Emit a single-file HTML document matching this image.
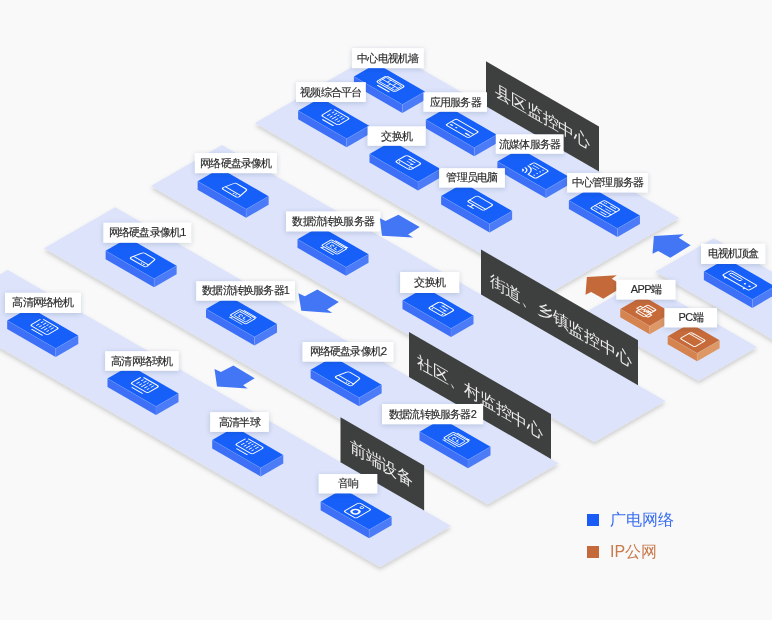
<!DOCTYPE html>
<html><head><meta charset="utf-8"><style>
html,body{margin:0;padding:0;background:#f9f9f9;}
svg{display:block;font-family:'Liberation Sans', sans-serif;will-change:transform;}
</style></head><body>
<svg width="772" height="620" viewBox="0 0 772 620">
<defs>
<filter id="ps" x="-10%" y="-10%" width="120%" height="130%"><feDropShadow dx="0" dy="2.5" stdDeviation="2.2" flood-color="#000" flood-opacity="0.19"/></filter>
<filter id="ls" x="-20%" y="-30%" width="140%" height="170%"><feDropShadow dx="0" dy="1.2" stdDeviation="2.4" flood-color="#2a3560" flood-opacity="0.2"/></filter>
</defs>
<rect x="0" y="0" width="772" height="620" fill="#f9f9f9"/>
<polygon points="255.00,123.00 384.90,48.00 679.35,218.00 549.45,293.00" fill="#dce3fa" filter="url(#ps)"/>
<polygon points="486.00,61.37 599.00,126.61 599.00,171.61 486.00,106.37" fill="#3e403f"/>
<g transform="translate(542.50,116.29) skewY(30)"><text x="0" y="0" text-anchor="middle" dominant-baseline="central" font-size="16" fill="#ececec">县区监控中心</text></g>
<polygon points="353.90,76.60 402.40,104.60 402.40,113.10 353.90,85.10" fill="#3d70f6"/>
<polygon points="402.40,104.60 424.92,91.60 424.92,100.10 402.40,113.10" fill="#4b7bf7"/>
<polygon points="376.42,63.60 424.92,91.60 402.40,104.60 353.90,76.60" fill="#1660f9"/>
<polyline points="353.90,76.60 402.40,104.60 424.92,91.60" fill="none" stroke="#fff" stroke-opacity="0.15" stroke-width="0.8"/>
<line x1="402.40" y1="104.60" x2="402.40" y2="113.10" stroke="#fff" stroke-opacity="0.12" stroke-width="0.8"/>
<g transform="matrix(0.8660,0.5,-0.8660,0.5,376.42,63.60) translate(28.00,13.00)" fill="none" stroke="#fff" stroke-width="1.1" stroke-linecap="round" stroke-linejoin="round"><rect x="-10" y="-6.6" width="21" height="11.6" rx="1.6"/><path d="M-8.2,-4.8h17.4v8h-17.4z M-8.2,-0.8h17.4 M-3,-4.8v4 M3.5,-4.8v4 M0.5,-0.8v4 M5.5,-0.8v4" stroke-width="0.75"/><path d="M-5.5,8h13"/></g>
<polygon points="298.10,110.80 346.60,138.80 346.60,147.30 298.10,119.30" fill="#3d70f6"/>
<polygon points="346.60,138.80 369.12,125.80 369.12,134.30 346.60,147.30" fill="#4b7bf7"/>
<polygon points="320.62,97.80 369.12,125.80 346.60,138.80 298.10,110.80" fill="#1660f9"/>
<polyline points="298.10,110.80 346.60,138.80 369.12,125.80" fill="none" stroke="#fff" stroke-opacity="0.15" stroke-width="0.8"/>
<line x1="346.60" y1="138.80" x2="346.60" y2="147.30" stroke="#fff" stroke-opacity="0.12" stroke-width="0.8"/>
<g transform="matrix(0.8660,0.5,-0.8660,0.5,320.62,97.80) translate(28.00,13.00)" fill="none" stroke="#fff" stroke-width="1.1" stroke-linecap="round" stroke-linejoin="round"><path d="M-8,-9h15.5a2,2 0 0 1 2,2v9.3a2,2 0 0 1 -2,2h-15.5a2,2 0 0 1 -2,-2v-9.3"/><path d="M-6.2,-6.5v2M-6.2,-2v3M-3.2,-7v3M-3.2,-1.5v2.5M-0.2,-6.5v1.5M-0.2,-3v4.5M2.8,-7v2.5M2.8,-2v3M5.8,-6.5v3M5.8,-1v2" stroke-width="0.9"/><path d="M-5,7.6h12"/></g>
<polygon points="425.80,119.80 474.30,147.80 474.30,156.30 425.80,128.30" fill="#3d70f6"/>
<polygon points="474.30,147.80 496.82,134.80 496.82,143.30 474.30,156.30" fill="#4b7bf7"/>
<polygon points="448.32,106.80 496.82,134.80 474.30,147.80 425.80,119.80" fill="#1660f9"/>
<polyline points="425.80,119.80 474.30,147.80 496.82,134.80" fill="none" stroke="#fff" stroke-opacity="0.15" stroke-width="0.8"/>
<line x1="474.30" y1="147.80" x2="474.30" y2="156.30" stroke="#fff" stroke-opacity="0.12" stroke-width="0.8"/>
<g transform="matrix(0.8660,0.5,-0.8660,0.5,448.32,106.80) translate(28.00,13.00)" fill="none" stroke="#fff" stroke-width="1.1" stroke-linecap="round" stroke-linejoin="round"><rect x="-11.5" y="-5.5" width="26" height="12" rx="1.8"/><path d="M-11.5,0h26"/><path d="M-8.8,3.2h1.6M-2.8,3.2h0.4M8.5,3.4h4" stroke-width="1.5"/></g>
<polygon points="369.50,154.00 418.00,182.00 418.00,190.50 369.50,162.50" fill="#3d70f6"/>
<polygon points="418.00,182.00 440.52,169.00 440.52,177.50 418.00,190.50" fill="#4b7bf7"/>
<polygon points="392.02,141.00 440.52,169.00 418.00,182.00 369.50,154.00" fill="#1660f9"/>
<polyline points="369.50,154.00 418.00,182.00 440.52,169.00" fill="none" stroke="#fff" stroke-opacity="0.15" stroke-width="0.8"/>
<line x1="418.00" y1="182.00" x2="418.00" y2="190.50" stroke="#fff" stroke-opacity="0.12" stroke-width="0.8"/>
<g transform="matrix(0.8660,0.5,-0.8660,0.5,392.02,141.00) translate(28.00,13.00)" fill="none" stroke="#fff" stroke-width="1.1" stroke-linecap="round" stroke-linejoin="round"><rect x="-5.5" y="-7.5" width="17" height="13.3" rx="2.2"/><path d="M-5.5,1.8h17"/><path d="M0,-4.6h7M0,-4.6l1.8,-1.3M0.8,-1.6h7M7.8,-1.6l-1.8,1.3" stroke-width="0.9"/><path d="M-2.8,3.8h0.2M8.8,3.8h0.2" stroke-width="1.4"/></g>
<polygon points="497.40,161.60 545.90,189.60 545.90,198.10 497.40,170.10" fill="#3d70f6"/>
<polygon points="545.90,189.60 568.42,176.60 568.42,185.10 545.90,198.10" fill="#4b7bf7"/>
<polygon points="519.92,148.60 568.42,176.60 545.90,189.60 497.40,161.60" fill="#1660f9"/>
<polyline points="497.40,161.60 545.90,189.60 568.42,176.60" fill="none" stroke="#fff" stroke-opacity="0.15" stroke-width="0.8"/>
<line x1="545.90" y1="189.60" x2="545.90" y2="198.10" stroke="#fff" stroke-opacity="0.12" stroke-width="0.8"/>
<g transform="matrix(0.8660,0.5,-0.8660,0.5,519.92,148.60) translate(28.00,13.00)" fill="none" stroke="#fff" stroke-width="1.1" stroke-linecap="round" stroke-linejoin="round"><path d="M-6,-2.5v-2.8a2,2 0 0 1 2,-2h13a2,2 0 0 1 2,2v11.3a2,2 0 0 1 -2,2h-6"/><path d="M-6,-0.5a8.5,8.5 0 0 1 8.5,8.5M-6,3a5,5 0 0 1 5,5M-6,6a2,2 0 0 1 2,2"/><path d="M-3.5,-4h6.5M-1.5,-1h4.5" stroke-width="0.9"/><path d="M6.8,-4.7h0.2M6.8,-1.4h0.2M6.8,2h0.2M6.8,5.3h0.2" stroke-width="1.3"/></g>
<polygon points="441.10,196.00 489.60,224.00 489.60,232.50 441.10,204.50" fill="#3d70f6"/>
<polygon points="489.60,224.00 512.12,211.00 512.12,219.50 489.60,232.50" fill="#4b7bf7"/>
<polygon points="463.62,183.00 512.12,211.00 489.60,224.00 441.10,196.00" fill="#1660f9"/>
<polyline points="441.10,196.00 489.60,224.00 512.12,211.00" fill="none" stroke="#fff" stroke-opacity="0.15" stroke-width="0.8"/>
<line x1="489.60" y1="224.00" x2="489.60" y2="232.50" stroke="#fff" stroke-opacity="0.12" stroke-width="0.8"/>
<g transform="matrix(0.8660,0.5,-0.8660,0.5,463.62,183.00) translate(28.00,13.00)" fill="none" stroke="#fff" stroke-width="1.1" stroke-linecap="round" stroke-linejoin="round"><rect x="-7.6" y="-8.1" width="18.6" height="11.3" rx="1.8"/><path d="M-7.6,0.6h18.6M-0.5,3.2v3.6M-3.5,6.8h6.5"/></g>
<polygon points="568.90,200.60 617.40,228.60 617.40,237.10 568.90,209.10" fill="#3d70f6"/>
<polygon points="617.40,228.60 639.92,215.60 639.92,224.10 617.40,237.10" fill="#4b7bf7"/>
<polygon points="591.42,187.60 639.92,215.60 617.40,228.60 568.90,200.60" fill="#1660f9"/>
<polyline points="568.90,200.60 617.40,228.60 639.92,215.60" fill="none" stroke="#fff" stroke-opacity="0.15" stroke-width="0.8"/>
<line x1="617.40" y1="228.60" x2="617.40" y2="237.10" stroke="#fff" stroke-opacity="0.12" stroke-width="0.8"/>
<g transform="matrix(0.8660,0.5,-0.8660,0.5,591.42,187.60) translate(28.00,13.00)" fill="none" stroke="#fff" stroke-width="1.1" stroke-linecap="round" stroke-linejoin="round"><rect x="-8" y="-7.8" width="18.5" height="16" rx="2"/><path d="M-8,-2.9h18.5M-8,2.85h18.5"/><path d="M-5.5,-5.5h0.2M-3.5,-5.5h0.2M-5.5,0h0.2M-3.5,0h0.2M-5.5,5.5h0.2M-3.5,5.5h0.2" stroke-width="1.2"/><path d="M1.5,-5.6h6M1.5,0h6M1.5,5.6h6" stroke-width="0.9"/></g>
<rect x="352.0" y="48.2" width="71.7" height="19.9" fill="#fff" filter="url(#ls)"/>
<text x="387.85" y="57.65" text-anchor="middle" dominant-baseline="central" font-size="11" letter-spacing="-0.8" fill="#2a2a2a" stroke="#2a2a2a" stroke-width="0.15">中心电视机墙</text>
<rect x="296.0" y="82.1" width="69.8" height="19.9" fill="#fff" filter="url(#ls)"/>
<text x="330.90" y="91.55" text-anchor="middle" dominant-baseline="central" font-size="11" letter-spacing="-0.8" fill="#2a2a2a" stroke="#2a2a2a" stroke-width="0.15">视频综合平台</text>
<rect x="423.5" y="92.3" width="63.5" height="19.5" fill="#fff" filter="url(#ls)"/>
<text x="455.25" y="101.55" text-anchor="middle" dominant-baseline="central" font-size="11" letter-spacing="-0.8" fill="#2a2a2a" stroke="#2a2a2a" stroke-width="0.15">应用服务器</text>
<rect x="367.6" y="126.3" width="58.1" height="19.5" fill="#fff" filter="url(#ls)"/>
<text x="396.65" y="135.55" text-anchor="middle" dominant-baseline="central" font-size="11" letter-spacing="-0.8" fill="#2a2a2a" stroke="#2a2a2a" stroke-width="0.15">交换机</text>
<rect x="495.8" y="134.3" width="67.8" height="19.5" fill="#fff" filter="url(#ls)"/>
<text x="529.70" y="143.55" text-anchor="middle" dominant-baseline="central" font-size="11" letter-spacing="-0.8" fill="#2a2a2a" stroke="#2a2a2a" stroke-width="0.15">流媒体服务器</text>
<rect x="439.1" y="168.2" width="65.8" height="19.4" fill="#fff" filter="url(#ls)"/>
<text x="472.00" y="177.40" text-anchor="middle" dominant-baseline="central" font-size="11" letter-spacing="-0.8" fill="#2a2a2a" stroke="#2a2a2a" stroke-width="0.15">管理员电脑</text>
<rect x="567.1" y="173.0" width="80.7" height="19.5" fill="#fff" filter="url(#ls)"/>
<text x="607.45" y="182.25" text-anchor="middle" dominant-baseline="central" font-size="11" letter-spacing="-0.8" fill="#2a2a2a" stroke="#2a2a2a" stroke-width="0.15">中心管理服务器</text>
<polygon points="655.50,271.80 713.78,238.15 852.35,318.15 794.06,351.80" fill="#dce3fa" filter="url(#ps)"/>
<polygon points="703.90,271.40 752.40,299.40 752.40,307.90 703.90,279.90" fill="#3d70f6"/>
<polygon points="752.40,299.40 774.92,286.40 774.92,294.90 752.40,307.90" fill="#4b7bf7"/>
<polygon points="726.42,258.40 774.92,286.40 752.40,299.40 703.90,271.40" fill="#1660f9"/>
<polyline points="703.90,271.40 752.40,299.40 774.92,286.40" fill="none" stroke="#fff" stroke-opacity="0.15" stroke-width="0.8"/>
<line x1="752.40" y1="299.40" x2="752.40" y2="307.90" stroke="#fff" stroke-opacity="0.12" stroke-width="0.8"/>
<g transform="matrix(0.8660,0.5,-0.8660,0.5,726.42,258.40) translate(28.00,13.00)" fill="none" stroke="#fff" stroke-width="1.1" stroke-linecap="round" stroke-linejoin="round"><rect x="-13.5" y="-3.6" width="30.5" height="9.8" rx="1.8"/><rect x="-10.8" y="-1.4" width="13.3" height="3.2" rx="1.6" stroke-width="0.85"/><path d="M7.8,1.6h0.3M13.1,1.6h0.3" stroke-width="1.8"/><path d="M-9.5,6.5v1M12.2,6.5v1" stroke-width="1.4"/></g>
<rect x="701.0" y="243.9" width="64.2" height="20.1" fill="#fff" filter="url(#ls)"/>
<text x="733.10" y="253.45" text-anchor="middle" dominant-baseline="central" font-size="11" letter-spacing="-0.8" fill="#2a2a2a" stroke="#2a2a2a" stroke-width="0.15">电视机顶盒</text>
<polygon points="653.90,236.00 683.80,234.30 678.80,237.80 690.60,245.30 670.30,257.80 658.20,251.00 652.50,253.80" fill="#4276f4"/>
<polygon points="582.80,313.90 641.26,280.15 757.13,347.05 698.67,380.80" fill="#dce3fa" filter="url(#ps)"/>
<polygon points="586.90,277.00 616.80,275.30 611.80,278.80 623.60,286.30 603.30,298.80 591.20,292.00 585.50,294.80" fill="#c46a3a"/>
<polygon points="620.26,309.00 649.70,326.00 649.70,334.30 620.26,317.30" fill="#d5834f"/>
<polygon points="649.70,326.00 672.22,313.00 672.22,321.30 649.70,334.30" fill="#de9866"/>
<polygon points="642.77,296.00 672.22,313.00 649.70,326.00 620.26,309.00" fill="#c76a39"/>
<polyline points="620.26,309.00 649.70,326.00 672.22,313.00" fill="none" stroke="#fff" stroke-opacity="0.15" stroke-width="0.8"/>
<line x1="649.70" y1="326.00" x2="649.70" y2="334.30" stroke="#fff" stroke-opacity="0.12" stroke-width="0.8"/>
<g transform="matrix(0.8660,0.5,-0.8660,0.5,642.77,296.00) translate(17.00,13.00)" fill="none" stroke="#fff" stroke-width="1.1" stroke-linecap="round" stroke-linejoin="round"><rect x="-5.2" y="-7" width="9.8" height="14" rx="1.2" stroke-width="1.2"/><path d="M-5.2,-1.5h-3v4.2h3M4.6,1h2.6v4.2h-2.6" stroke-width="1.1"/><path d="M-5.2,-4.2h9.8M-5.2,4.4h9.8" stroke-width="1"/><path d="M-3.8,1.8l1.3,-3.6l1.3,3.6M-0.3,1.8v-3.4h1a0.9,0.9 0 0 1 0,1.8h-1M2.2,1.8v-3.4h1a0.9,0.9 0 0 1 0,1.8h-1" stroke-width="0.9"/></g>
<polygon points="667.66,336.30 697.10,353.30 697.10,361.30 667.66,344.30" fill="#d5834f"/>
<polygon points="697.10,353.30 719.62,340.30 719.62,348.30 697.10,361.30" fill="#de9866"/>
<polygon points="690.17,323.30 719.62,340.30 697.10,353.30 667.66,336.30" fill="#c76a39"/>
<polyline points="667.66,336.30 697.10,353.30 719.62,340.30" fill="none" stroke="#fff" stroke-opacity="0.15" stroke-width="0.8"/>
<line x1="697.10" y1="353.30" x2="697.10" y2="361.30" stroke="#fff" stroke-opacity="0.12" stroke-width="0.8"/>
<g transform="matrix(0.8660,0.5,-0.8660,0.5,690.17,323.30) translate(17.00,13.00)" fill="none" stroke="#fff" stroke-width="1.1" stroke-linecap="round" stroke-linejoin="round"><rect x="-7.5" y="-4.6" width="16.7" height="12.7" rx="1.5"/><path d="M-7.5,-2.2h16.7" stroke-width="0.9"/><path d="M-5.5,-3.4h0.1M-4,-3.4h0.1" stroke-width="0.9"/></g>
<rect x="616.3" y="279.9" width="59.2" height="19.7" fill="#fff" filter="url(#ls)"/>
<text x="645.90" y="289.25" text-anchor="middle" dominant-baseline="central" font-size="11" letter-spacing="-0.8" fill="#2a2a2a" stroke="#2a2a2a" stroke-width="0.15"><tspan letter-spacing="-0.6">APP</tspan>端</text>
<rect x="664.4" y="308.1" width="52.6" height="19.3" fill="#fff" filter="url(#ls)"/>
<text x="690.70" y="317.25" text-anchor="middle" dominant-baseline="central" font-size="11" letter-spacing="-0.8" fill="#2a2a2a" stroke="#2a2a2a" stroke-width="0.15"><tspan letter-spacing="-0.6">PC</tspan>端</text>
<polygon points="151.00,186.00 222.01,145.00 665.42,401.00 594.41,442.00" fill="#dce3fa" filter="url(#ps)"/>
<polygon points="481.00,249.53 638.00,340.17 638.00,385.17 481.00,294.53" fill="#3e403f"/>
<g transform="translate(560.50,320.42) skewY(30)"><text x="0" y="0" text-anchor="middle" dominant-baseline="central" font-size="16" fill="#ececec">街道、乡镇监控中心</text></g>
<polygon points="197.60,181.20 246.10,209.20 246.10,217.70 197.60,189.70" fill="#3d70f6"/>
<polygon points="246.10,209.20 268.62,196.20 268.62,204.70 246.10,217.70" fill="#4b7bf7"/>
<polygon points="220.12,168.20 268.62,196.20 246.10,209.20 197.60,181.20" fill="#1660f9"/>
<polyline points="197.60,181.20 246.10,209.20 268.62,196.20" fill="none" stroke="#fff" stroke-opacity="0.15" stroke-width="0.8"/>
<line x1="246.10" y1="209.20" x2="246.10" y2="217.70" stroke="#fff" stroke-opacity="0.12" stroke-width="0.8"/>
<g transform="matrix(0.8660,0.5,-0.8660,0.5,220.12,168.20) translate(28.00,13.00)" fill="none" stroke="#fff" stroke-width="1.1" stroke-linecap="round" stroke-linejoin="round"><path d="M-6.8,4.5l2,-10a2,2 0 0 1 2,-1.7h10.3a2,2 0 0 1 2,1.7l2,10a2,2 0 0 1 -2,2h-14.3a2,2 0 0 1 -2,-2z"/><path d="M-6.4,2.4h16.9"/><path d="M5,4.5h0.2M7.6,4.5h0.2" stroke-width="1.3"/></g>
<polygon points="297.50,239.30 346.00,267.30 346.00,275.80 297.50,247.80" fill="#3d70f6"/>
<polygon points="346.00,267.30 368.52,254.30 368.52,262.80 346.00,275.80" fill="#4b7bf7"/>
<polygon points="320.02,226.30 368.52,254.30 346.00,267.30 297.50,239.30" fill="#1660f9"/>
<polyline points="297.50,239.30 346.00,267.30 368.52,254.30" fill="none" stroke="#fff" stroke-opacity="0.15" stroke-width="0.8"/>
<line x1="346.00" y1="267.30" x2="346.00" y2="275.80" stroke="#fff" stroke-opacity="0.12" stroke-width="0.8"/>
<g transform="matrix(0.8660,0.5,-0.8660,0.5,320.02,226.30) translate(28.00,13.00)" fill="none" stroke="#fff" stroke-width="1.1" stroke-linecap="round" stroke-linejoin="round"><rect x="-8" y="-6.2" width="18" height="11.4" rx="1.2"/><rect x="-5.8" y="-4.2" width="13.6" height="7.4" rx="0.8" stroke-width="0.8"/><path d="M-6.4,7.6h14.5M-6.4,7.6l2,-1.2M-4.6,-7.6h13.9M9.3,-7.6l-2,1.2" stroke-width="0.9"/><path d="M-0.6,1.3a1.6,1.6 0 1 1 0.9,-2.1M2.6,-1.4v2.4h2.2" stroke-width="0.8"/></g>
<polygon points="402.50,300.50 451.00,328.50 451.00,337.00 402.50,309.00" fill="#3d70f6"/>
<polygon points="451.00,328.50 473.52,315.50 473.52,324.00 451.00,337.00" fill="#4b7bf7"/>
<polygon points="425.02,287.50 473.52,315.50 451.00,328.50 402.50,300.50" fill="#1660f9"/>
<polyline points="402.50,300.50 451.00,328.50 473.52,315.50" fill="none" stroke="#fff" stroke-opacity="0.15" stroke-width="0.8"/>
<line x1="451.00" y1="328.50" x2="451.00" y2="337.00" stroke="#fff" stroke-opacity="0.12" stroke-width="0.8"/>
<g transform="matrix(0.8660,0.5,-0.8660,0.5,425.02,287.50) translate(28.00,13.00)" fill="none" stroke="#fff" stroke-width="1.1" stroke-linecap="round" stroke-linejoin="round"><rect x="-5.5" y="-7.5" width="17" height="13.3" rx="2.2"/><path d="M-5.5,1.8h17"/><path d="M0,-4.6h7M0,-4.6l1.8,-1.3M0.8,-1.6h7M7.8,-1.6l-1.8,1.3" stroke-width="0.9"/><path d="M-2.8,3.8h0.2M8.8,3.8h0.2" stroke-width="1.4"/></g>
<rect x="194.9" y="153.0" width="81.9" height="20.1" fill="#fff" filter="url(#ls)"/>
<text x="235.85" y="162.55" text-anchor="middle" dominant-baseline="central" font-size="11" letter-spacing="-0.8" fill="#2a2a2a" stroke="#2a2a2a" stroke-width="0.15">网络硬盘录像机</text>
<rect x="286.0" y="211.4" width="94.5" height="20.0" fill="#fff" filter="url(#ls)"/>
<text x="333.25" y="220.90" text-anchor="middle" dominant-baseline="central" font-size="11" letter-spacing="-0.8" fill="#2a2a2a" stroke="#2a2a2a" stroke-width="0.15">数据流转换服务器</text>
<rect x="400.1" y="272.0" width="59.1" height="21.0" fill="#fff" filter="url(#ls)"/>
<text x="429.65" y="282.00" text-anchor="middle" dominant-baseline="central" font-size="11" letter-spacing="-0.8" fill="#2a2a2a" stroke="#2a2a2a" stroke-width="0.15">交换机</text>
<polygon points="379.90,218.20 385.50,220.90 398.40,214.70 419.70,227.10 408.10,234.50 413.10,237.60 382.00,235.70" fill="#4276f4"/>
<polygon points="44.20,248.30 115.21,207.30 558.62,463.30 487.61,504.30" fill="#dce3fa" filter="url(#ps)"/>
<polygon points="409.00,331.92 551.00,413.90 551.00,458.90 409.00,376.92" fill="#3e403f"/>
<g transform="translate(480.00,396.91) skewY(30)"><text x="0" y="0" text-anchor="middle" dominant-baseline="central" font-size="16" fill="#ececec">社区、村监控中心</text></g>
<polygon points="105.60,250.80 154.10,278.80 154.10,287.30 105.60,259.30" fill="#3d70f6"/>
<polygon points="154.10,278.80 176.62,265.80 176.62,274.30 154.10,287.30" fill="#4b7bf7"/>
<polygon points="128.12,237.80 176.62,265.80 154.10,278.80 105.60,250.80" fill="#1660f9"/>
<polyline points="105.60,250.80 154.10,278.80 176.62,265.80" fill="none" stroke="#fff" stroke-opacity="0.15" stroke-width="0.8"/>
<line x1="154.10" y1="278.80" x2="154.10" y2="287.30" stroke="#fff" stroke-opacity="0.12" stroke-width="0.8"/>
<g transform="matrix(0.8660,0.5,-0.8660,0.5,128.12,237.80) translate(28.00,13.00)" fill="none" stroke="#fff" stroke-width="1.1" stroke-linecap="round" stroke-linejoin="round"><path d="M-6.8,4.5l2,-10a2,2 0 0 1 2,-1.7h10.3a2,2 0 0 1 2,1.7l2,10a2,2 0 0 1 -2,2h-14.3a2,2 0 0 1 -2,-2z"/><path d="M-6.4,2.4h16.9"/><path d="M5,4.5h0.2M7.6,4.5h0.2" stroke-width="1.3"/></g>
<polygon points="206.00,309.00 254.50,337.00 254.50,345.50 206.00,317.50" fill="#3d70f6"/>
<polygon points="254.50,337.00 277.02,324.00 277.02,332.50 254.50,345.50" fill="#4b7bf7"/>
<polygon points="228.52,296.00 277.02,324.00 254.50,337.00 206.00,309.00" fill="#1660f9"/>
<polyline points="206.00,309.00 254.50,337.00 277.02,324.00" fill="none" stroke="#fff" stroke-opacity="0.15" stroke-width="0.8"/>
<line x1="254.50" y1="337.00" x2="254.50" y2="345.50" stroke="#fff" stroke-opacity="0.12" stroke-width="0.8"/>
<g transform="matrix(0.8660,0.5,-0.8660,0.5,228.52,296.00) translate(28.00,13.00)" fill="none" stroke="#fff" stroke-width="1.1" stroke-linecap="round" stroke-linejoin="round"><rect x="-8" y="-6.2" width="18" height="11.4" rx="1.2"/><rect x="-5.8" y="-4.2" width="13.6" height="7.4" rx="0.8" stroke-width="0.8"/><path d="M-6.4,7.6h14.5M-6.4,7.6l2,-1.2M-4.6,-7.6h13.9M9.3,-7.6l-2,1.2" stroke-width="0.9"/><path d="M-0.6,1.3a1.6,1.6 0 1 1 0.9,-2.1M2.6,-1.4v2.4h2.2" stroke-width="0.8"/></g>
<polygon points="310.60,369.80 359.10,397.80 359.10,406.30 310.60,378.30" fill="#3d70f6"/>
<polygon points="359.10,397.80 381.62,384.80 381.62,393.30 359.10,406.30" fill="#4b7bf7"/>
<polygon points="333.12,356.80 381.62,384.80 359.10,397.80 310.60,369.80" fill="#1660f9"/>
<polyline points="310.60,369.80 359.10,397.80 381.62,384.80" fill="none" stroke="#fff" stroke-opacity="0.15" stroke-width="0.8"/>
<line x1="359.10" y1="397.80" x2="359.10" y2="406.30" stroke="#fff" stroke-opacity="0.12" stroke-width="0.8"/>
<g transform="matrix(0.8660,0.5,-0.8660,0.5,333.12,356.80) translate(28.00,13.00)" fill="none" stroke="#fff" stroke-width="1.1" stroke-linecap="round" stroke-linejoin="round"><path d="M-6.8,4.5l2,-10a2,2 0 0 1 2,-1.7h10.3a2,2 0 0 1 2,1.7l2,10a2,2 0 0 1 -2,2h-14.3a2,2 0 0 1 -2,-2z"/><path d="M-6.4,2.4h16.9"/><path d="M5,4.5h0.2M7.6,4.5h0.2" stroke-width="1.3"/></g>
<polygon points="419.50,431.80 468.00,459.80 468.00,468.30 419.50,440.30" fill="#3d70f6"/>
<polygon points="468.00,459.80 490.52,446.80 490.52,455.30 468.00,468.30" fill="#4b7bf7"/>
<polygon points="442.02,418.80 490.52,446.80 468.00,459.80 419.50,431.80" fill="#1660f9"/>
<polyline points="419.50,431.80 468.00,459.80 490.52,446.80" fill="none" stroke="#fff" stroke-opacity="0.15" stroke-width="0.8"/>
<line x1="468.00" y1="459.80" x2="468.00" y2="468.30" stroke="#fff" stroke-opacity="0.12" stroke-width="0.8"/>
<g transform="matrix(0.8660,0.5,-0.8660,0.5,442.02,418.80) translate(28.00,13.00)" fill="none" stroke="#fff" stroke-width="1.1" stroke-linecap="round" stroke-linejoin="round"><rect x="-8" y="-6.2" width="18" height="11.4" rx="1.2"/><rect x="-5.8" y="-4.2" width="13.6" height="7.4" rx="0.8" stroke-width="0.8"/><path d="M-6.4,7.6h14.5M-6.4,7.6l2,-1.2M-4.6,-7.6h13.9M9.3,-7.6l-2,1.2" stroke-width="0.9"/><path d="M-0.6,1.3a1.6,1.6 0 1 1 0.9,-2.1M2.6,-1.4v2.4h2.2" stroke-width="0.8"/></g>
<rect x="103.4" y="222.7" width="87.7" height="20.1" fill="#fff" filter="url(#ls)"/>
<text x="147.25" y="232.25" text-anchor="middle" dominant-baseline="central" font-size="11" letter-spacing="-0.8" fill="#2a2a2a" stroke="#2a2a2a" stroke-width="0.15">网络硬盘录像机1</text>
<rect x="196.2" y="281.2" width="98.8" height="19.5" fill="#fff" filter="url(#ls)"/>
<text x="245.60" y="290.45" text-anchor="middle" dominant-baseline="central" font-size="11" letter-spacing="-0.8" fill="#2a2a2a" stroke="#2a2a2a" stroke-width="0.15">数据流转换服务器1</text>
<rect x="302.5" y="342.0" width="90.8" height="19.7" fill="#fff" filter="url(#ls)"/>
<text x="347.90" y="351.35" text-anchor="middle" dominant-baseline="central" font-size="11" letter-spacing="-0.8" fill="#2a2a2a" stroke="#2a2a2a" stroke-width="0.15">网络硬盘录像机2</text>
<rect x="382.0" y="404.0" width="101.1" height="20.2" fill="#fff" filter="url(#ls)"/>
<text x="432.55" y="413.60" text-anchor="middle" dominant-baseline="central" font-size="11" letter-spacing="-0.8" fill="#2a2a2a" stroke="#2a2a2a" stroke-width="0.15">数据流转换服务器2</text>
<polygon points="298.40,293.20 304.80,296.20 317.40,289.50 338.80,302.10 327.10,309.50 332.30,313.00 301.30,310.70" fill="#4276f4"/>
<polygon points="-63.30,311.00 7.71,270.00 451.12,526.00 380.11,567.00" fill="#dce3fa" filter="url(#ps)"/>
<polygon points="340.50,417.13 424.10,465.40 424.10,510.40 340.50,462.13" fill="#3e403f"/>
<g transform="translate(381.30,463.19) skewY(30)"><text x="0" y="0" text-anchor="middle" dominant-baseline="central" font-size="16" fill="#ececec">前端设备</text></g>
<polygon points="7.20,320.50 55.70,348.50 55.70,357.00 7.20,329.00" fill="#3d70f6"/>
<polygon points="55.70,348.50 78.22,335.50 78.22,344.00 55.70,357.00" fill="#4b7bf7"/>
<polygon points="29.72,307.50 78.22,335.50 55.70,348.50 7.20,320.50" fill="#1660f9"/>
<polyline points="7.20,320.50 55.70,348.50 78.22,335.50" fill="none" stroke="#fff" stroke-opacity="0.15" stroke-width="0.8"/>
<line x1="55.70" y1="348.50" x2="55.70" y2="357.00" stroke="#fff" stroke-opacity="0.12" stroke-width="0.8"/>
<g transform="matrix(0.8660,0.5,-0.8660,0.5,29.72,307.50) translate(28.00,13.00)" fill="none" stroke="#fff" stroke-width="1.1" stroke-linecap="round" stroke-linejoin="round"><path d="M-8,-9h15.5a2,2 0 0 1 2,2v9.3a2,2 0 0 1 -2,2h-15.5a2,2 0 0 1 -2,-2v-9.3"/><path d="M-6.2,-6.5v2M-6.2,-2v3M-3.2,-7v3M-3.2,-1.5v2.5M-0.2,-6.5v1.5M-0.2,-3v4.5M2.8,-7v2.5M2.8,-2v3M5.8,-6.5v3M5.8,-1v2" stroke-width="0.9"/><path d="M-5,7.6h12"/></g>
<polygon points="107.50,378.60 156.00,406.60 156.00,415.10 107.50,387.10" fill="#3d70f6"/>
<polygon points="156.00,406.60 178.52,393.60 178.52,402.10 156.00,415.10" fill="#4b7bf7"/>
<polygon points="130.02,365.60 178.52,393.60 156.00,406.60 107.50,378.60" fill="#1660f9"/>
<polyline points="107.50,378.60 156.00,406.60 178.52,393.60" fill="none" stroke="#fff" stroke-opacity="0.15" stroke-width="0.8"/>
<line x1="156.00" y1="406.60" x2="156.00" y2="415.10" stroke="#fff" stroke-opacity="0.12" stroke-width="0.8"/>
<g transform="matrix(0.8660,0.5,-0.8660,0.5,130.02,365.60) translate(28.00,13.00)" fill="none" stroke="#fff" stroke-width="1.1" stroke-linecap="round" stroke-linejoin="round"><path d="M-8,-9h15.5a2,2 0 0 1 2,2v9.3a2,2 0 0 1 -2,2h-15.5a2,2 0 0 1 -2,-2v-9.3"/><path d="M-6.2,-6.5v2M-6.2,-2v3M-3.2,-7v3M-3.2,-1.5v2.5M-0.2,-6.5v1.5M-0.2,-3v4.5M2.8,-7v2.5M2.8,-2v3M5.8,-6.5v3M5.8,-1v2" stroke-width="0.9"/><path d="M-5,7.6h12"/></g>
<polygon points="212.20,439.90 260.70,467.90 260.70,476.40 212.20,448.40" fill="#3d70f6"/>
<polygon points="260.70,467.90 283.22,454.90 283.22,463.40 260.70,476.40" fill="#4b7bf7"/>
<polygon points="234.72,426.90 283.22,454.90 260.70,467.90 212.20,439.90" fill="#1660f9"/>
<polyline points="212.20,439.90 260.70,467.90 283.22,454.90" fill="none" stroke="#fff" stroke-opacity="0.15" stroke-width="0.8"/>
<line x1="260.70" y1="467.90" x2="260.70" y2="476.40" stroke="#fff" stroke-opacity="0.12" stroke-width="0.8"/>
<g transform="matrix(0.8660,0.5,-0.8660,0.5,234.72,426.90) translate(28.00,13.00)" fill="none" stroke="#fff" stroke-width="1.1" stroke-linecap="round" stroke-linejoin="round"><path d="M-8,-9h15.5a2,2 0 0 1 2,2v9.3a2,2 0 0 1 -2,2h-15.5a2,2 0 0 1 -2,-2v-9.3"/><path d="M-6.2,-6.5v2M-6.2,-2v3M-3.2,-7v3M-3.2,-1.5v2.5M-0.2,-6.5v1.5M-0.2,-3v4.5M2.8,-7v2.5M2.8,-2v3M5.8,-6.5v3M5.8,-1v2" stroke-width="0.9"/><path d="M-5,7.6h12"/></g>
<polygon points="320.60,501.80 369.10,529.80 369.10,538.30 320.60,510.30" fill="#3d70f6"/>
<polygon points="369.10,529.80 391.62,516.80 391.62,525.30 369.10,538.30" fill="#4b7bf7"/>
<polygon points="343.12,488.80 391.62,516.80 369.10,529.80 320.60,501.80" fill="#1660f9"/>
<polyline points="320.60,501.80 369.10,529.80 391.62,516.80" fill="none" stroke="#fff" stroke-opacity="0.15" stroke-width="0.8"/>
<line x1="369.10" y1="529.80" x2="369.10" y2="538.30" stroke="#fff" stroke-opacity="0.12" stroke-width="0.8"/>
<g transform="matrix(0.8660,0.5,-0.8660,0.5,343.12,488.80) translate(28.00,13.00)" fill="none" stroke="#fff" stroke-width="1.1" stroke-linecap="round" stroke-linejoin="round"><rect x="-5" y="-8.4" width="14" height="17.6" rx="1.8"/><circle cx="2" cy="2.7" r="3.2" stroke-width="1.8"/><circle cx="1.6" cy="-5" r="1.4" stroke-width="0.9"/></g>
<rect x="5.0" y="292.8" width="75.9" height="20.2" fill="#fff" filter="url(#ls)"/>
<text x="42.95" y="302.40" text-anchor="middle" dominant-baseline="central" font-size="11" letter-spacing="-0.8" fill="#2a2a2a" stroke="#2a2a2a" stroke-width="0.15">高清网络枪机</text>
<rect x="105.1" y="351.2" width="73.6" height="19.6" fill="#fff" filter="url(#ls)"/>
<text x="141.90" y="360.50" text-anchor="middle" dominant-baseline="central" font-size="11" letter-spacing="-0.8" fill="#2a2a2a" stroke="#2a2a2a" stroke-width="0.15">高清网络球机</text>
<rect x="210.1" y="412.1" width="58.8" height="19.8" fill="#fff" filter="url(#ls)"/>
<text x="239.50" y="421.50" text-anchor="middle" dominant-baseline="central" font-size="11" letter-spacing="-0.8" fill="#2a2a2a" stroke="#2a2a2a" stroke-width="0.15">高清半球</text>
<rect x="318.7" y="474.0" width="58.6" height="19.4" fill="#fff" filter="url(#ls)"/>
<text x="348.00" y="483.20" text-anchor="middle" dominant-baseline="central" font-size="11" letter-spacing="-0.8" fill="#2a2a2a" stroke="#2a2a2a" stroke-width="0.15">音响</text>
<polygon points="214.50,369.00 220.90,371.90 233.40,365.50 254.70,378.20 243.10,385.30 247.70,388.60 217.00,386.50" fill="#4276f4"/>
<rect x="587" y="514" width="12" height="12" fill="#1a5cf6"/>
<text x="610" y="519.5" dominant-baseline="central" font-size="16" fill="#3b6ef1">广电网络</text>
<rect x="587" y="546" width="12" height="12" fill="#c46a3a"/>
<text x="610" y="551.5" dominant-baseline="central" font-size="16" fill="#c77a4c">IP公网</text>
</svg></body></html>
